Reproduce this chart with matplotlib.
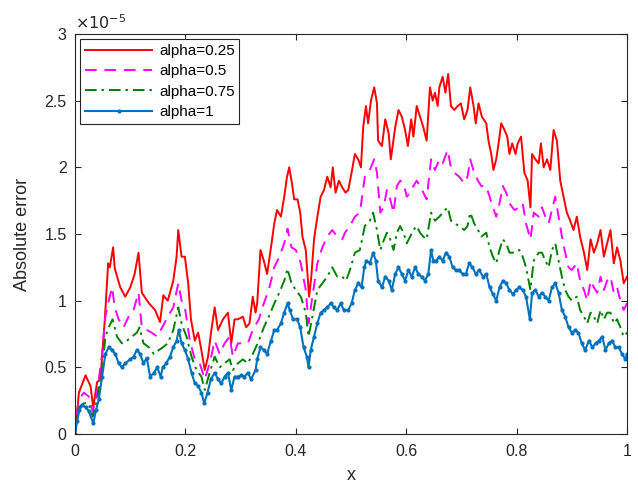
# Absolute error of the scheme for several fractional orders alpha
import numpy as np
import matplotlib.pyplot as plt
from matplotlib.ticker import FuncFormatter

# values, y in units of 1e-5
x_a025 = [0.0, 0.001, 0.007, 0.019, 0.028, 0.033, 0.040, 0.046, 0.054, 0.060, 0.063,
          0.069, 0.072, 0.082, 0.091, 0.100, 0.108, 0.115, 0.121, 0.134, 0.145, 0.154,
          0.160, 0.168, 0.178, 0.184, 0.187, 0.193, 0.199, 0.205, 0.210, 0.217, 0.223,
          0.228, 0.235, 0.241, 0.247, 0.253, 0.259, 0.268, 0.277, 0.283, 0.289, 0.295,
          0.304, 0.310, 0.316, 0.322, 0.327, 0.330, 0.336, 0.342, 0.348, 0.355, 0.361,
          0.366, 0.373, 0.379, 0.384, 0.388, 0.393, 0.397, 0.403, 0.408, 0.412, 0.418,
          0.424, 0.428, 0.433, 0.439, 0.445, 0.451, 0.457, 0.463, 0.467, 0.472, 0.478,
          0.484, 0.490, 0.495, 0.501, 0.507, 0.513, 0.518, 0.522, 0.527, 0.531, 0.536,
          0.542, 0.547, 0.549, 0.556, 0.562, 0.568, 0.572, 0.580, 0.586, 0.592, 0.598,
          0.603, 0.609, 0.613, 0.619, 0.625, 0.631, 0.637, 0.643, 0.648, 0.652, 0.657,
          0.660, 0.666, 0.671, 0.676, 0.681, 0.687, 0.693, 0.699, 0.705, 0.711, 0.716,
          0.722, 0.726, 0.731, 0.737, 0.745, 0.749, 0.754, 0.758, 0.763, 0.768, 0.772,
          0.778, 0.783, 0.787, 0.792, 0.798, 0.802, 0.808, 0.814, 0.820, 0.825, 0.828,
          0.834, 0.840, 0.844, 0.849, 0.855, 0.861, 0.867, 0.873, 0.879, 0.885, 0.891,
          0.897, 0.903, 0.909, 0.915, 0.922, 0.928, 0.934, 0.940, 0.946, 0.952, 0.958,
          0.964, 0.970, 0.976, 0.982, 0.988, 0.994, 1.0]
err_a025 = [0.0, 0.03, 0.31, 0.44, 0.36, 0.20, 0.39, 0.41, 0.86, 1.28, 1.25,
            1.40, 1.24, 1.10, 1.03, 1.10, 1.20, 1.36, 1.06, 0.98, 0.93, 0.84,
            1.04, 1.00, 1.15, 1.33, 1.53, 1.33, 1.33, 1.13, 0.86, 0.70, 0.76,
            0.65, 0.48, 0.58, 0.78, 0.95, 0.78, 0.86, 0.91, 0.68, 0.86, 0.86,
            0.88, 0.80, 0.83, 1.03, 0.91, 0.98, 1.38, 1.30, 1.20, 1.40, 1.58,
            1.68, 1.63, 1.78, 1.93, 2.00, 1.88, 1.76, 1.76, 1.66, 1.48, 1.38,
            1.03, 1.18, 1.46, 1.63, 1.78, 1.83, 1.93, 1.85, 2.00, 1.81, 1.90,
            1.85, 1.81, 1.83, 1.96, 2.10, 2.06, 2.00, 2.30, 2.46, 2.33, 2.50,
            2.60, 2.48, 2.20, 2.16, 2.36, 2.26, 2.06, 2.30, 2.43, 2.38, 2.28,
            2.16, 2.36, 2.23, 2.46, 2.38, 2.30, 2.20, 2.60, 2.50, 2.56, 2.46,
            2.60, 2.68, 2.56, 2.70, 2.46, 2.43, 2.46, 2.48, 2.36, 2.43, 2.60,
            2.46, 2.33, 2.48, 2.38, 2.33, 2.20, 2.10, 1.98, 2.06, 2.20, 2.33,
            2.28, 2.23, 2.10, 2.18, 2.10, 2.18, 2.23, 1.96, 1.90, 1.70, 2.10,
            2.06, 2.03, 2.18, 2.00, 2.06, 1.98, 2.28, 2.20, 1.90, 1.78, 1.66,
            1.60, 1.53, 1.63, 1.48, 1.36, 1.23, 1.46, 1.36, 1.43, 1.53, 1.33,
            1.43, 1.53, 1.28, 1.40, 1.30, 1.13, 1.18]

x_a05 = [0.0, 0.001, 0.007, 0.016, 0.025, 0.032, 0.040, 0.049, 0.055, 0.061, 0.067,
         0.072, 0.079, 0.088, 0.097, 0.106, 0.115, 0.121, 0.130, 0.139, 0.149, 0.158,
         0.168, 0.178, 0.187, 0.193, 0.199, 0.208, 0.217, 0.226, 0.235, 0.244, 0.253,
         0.262, 0.271, 0.280, 0.286, 0.295, 0.304, 0.313, 0.322, 0.333, 0.342, 0.351,
         0.361, 0.370, 0.379, 0.385, 0.392, 0.400, 0.409, 0.418, 0.423, 0.430, 0.439,
         0.448, 0.457, 0.466, 0.475, 0.484, 0.489, 0.498, 0.507, 0.516, 0.525, 0.534,
         0.542, 0.547, 0.553, 0.559, 0.565, 0.571, 0.577, 0.583, 0.589, 0.595, 0.601,
         0.607, 0.613, 0.619, 0.625, 0.631, 0.637, 0.645, 0.652, 0.660, 0.666, 0.675,
         0.681, 0.687, 0.696, 0.705, 0.711, 0.716, 0.723, 0.730, 0.736, 0.745, 0.751,
         0.757, 0.763, 0.769, 0.775, 0.781, 0.787, 0.796, 0.805, 0.811, 0.817, 0.825,
         0.831, 0.840, 0.846, 0.852, 0.858, 0.864, 0.870, 0.876, 0.882, 0.888, 0.894,
         0.900, 0.909, 0.915, 0.922, 0.928, 0.934, 0.940, 0.946, 0.952, 0.958, 0.964,
         0.970, 0.976, 0.982, 0.988, 0.994, 1.0]
err_a05 = [0.0, 0.08, 0.26, 0.31, 0.28, 0.17, 0.31, 0.60, 0.88, 1.00, 1.10,
           0.95, 0.86, 0.80, 0.88, 0.93, 1.06, 0.80, 0.78, 0.76, 0.73, 0.80,
           0.88, 0.95, 1.13, 1.00, 0.95, 0.70, 0.56, 0.53, 0.41, 0.53, 0.70,
           0.60, 0.68, 0.73, 0.58, 0.68, 0.68, 0.68, 0.78, 0.86, 0.98, 1.08,
           1.25, 1.33, 1.43, 1.54, 1.40, 1.38, 1.28, 1.08, 0.83, 1.03, 1.28,
           1.40, 1.48, 1.53, 1.48, 1.46, 1.51, 1.56, 1.63, 1.66, 1.93, 1.98,
           2.06, 1.96, 1.66, 1.70, 1.83, 1.76, 1.66, 1.86, 1.90, 1.88, 1.78,
           1.81, 1.86, 1.90, 1.86, 1.81, 1.76, 2.06, 1.98, 2.06, 2.03, 2.13,
           2.00, 1.96, 1.93, 1.88, 1.93, 2.06, 1.96, 1.90, 1.86, 1.86, 1.78,
           1.70, 1.63, 1.73, 1.86, 1.81, 1.73, 1.68, 1.70, 1.73, 1.58, 1.46,
           1.66, 1.63, 1.70, 1.63, 1.58, 1.68, 1.78, 1.63, 1.48, 1.36, 1.25,
           1.23, 1.28, 1.15, 1.08, 1.00, 1.15, 1.10, 1.06, 1.18, 1.08, 1.15,
           1.18, 1.06, 1.10, 1.00, 0.93, 0.98]

x_a075 = [0.0, 0.001, 0.007, 0.016, 0.025, 0.032, 0.040, 0.049, 0.055, 0.061, 0.068,
          0.076, 0.085, 0.094, 0.103, 0.112, 0.117, 0.124, 0.134, 0.143, 0.152, 0.159,
          0.168, 0.178, 0.187, 0.193, 0.202, 0.211, 0.220, 0.229, 0.235, 0.244, 0.253,
          0.262, 0.271, 0.280, 0.286, 0.295, 0.304, 0.313, 0.322, 0.333, 0.342, 0.351,
          0.361, 0.370, 0.379, 0.385, 0.392, 0.400, 0.409, 0.418, 0.423, 0.430, 0.439,
          0.448, 0.457, 0.466, 0.475, 0.484, 0.491, 0.498, 0.507, 0.516, 0.525, 0.534,
          0.540, 0.547, 0.553, 0.559, 0.565, 0.571, 0.577, 0.583, 0.589, 0.595, 0.601,
          0.607, 0.613, 0.619, 0.625, 0.631, 0.637, 0.645, 0.652, 0.660, 0.666, 0.675,
          0.681, 0.687, 0.696, 0.705, 0.711, 0.716, 0.723, 0.730, 0.736, 0.745, 0.751,
          0.757, 0.763, 0.769, 0.775, 0.781, 0.787, 0.796, 0.805, 0.811, 0.817, 0.825,
          0.831, 0.840, 0.846, 0.852, 0.858, 0.864, 0.870, 0.876, 0.882, 0.888, 0.894,
          0.900, 0.909, 0.915, 0.922, 0.928, 0.934, 0.940, 0.946, 0.952, 0.958, 0.964,
          0.970, 0.976, 0.982, 0.988, 0.994, 1.0]
err_a075 = [0.0, 0.05, 0.20, 0.23, 0.23, 0.13, 0.26, 0.48, 0.73, 0.80, 0.86,
            0.73, 0.68, 0.70, 0.73, 0.76, 0.80, 0.68, 0.65, 0.60, 0.63, 0.65,
            0.68, 0.78, 0.95, 0.83, 0.73, 0.58, 0.48, 0.43, 0.33, 0.46, 0.58,
            0.50, 0.53, 0.56, 0.48, 0.53, 0.56, 0.53, 0.60, 0.70, 0.80, 0.88,
            0.98, 1.06, 1.15, 1.24, 1.13, 1.08, 1.03, 0.91, 0.73, 0.88, 1.08,
            1.13, 1.18, 1.25, 1.18, 1.18, 1.15, 1.23, 1.36, 1.38, 1.56, 1.60,
            1.66, 1.53, 1.38, 1.45, 1.51, 1.46, 1.38, 1.51, 1.56, 1.51, 1.43,
            1.48, 1.53, 1.56, 1.51, 1.48, 1.46, 1.66, 1.60, 1.63, 1.66, 1.70,
            1.60, 1.58, 1.56, 1.53, 1.56, 1.66, 1.58, 1.53, 1.48, 1.51, 1.40,
            1.33, 1.28, 1.38, 1.46, 1.43, 1.36, 1.36, 1.38, 1.33, 1.25, 1.08,
            1.30, 1.36, 1.36, 1.30, 1.25, 1.38, 1.43, 1.30, 1.18, 1.08, 1.03,
            1.00, 1.03, 0.93, 0.88, 0.83, 0.91, 0.88, 0.83, 0.93, 0.86, 0.91,
            0.91, 0.83, 0.86, 0.80, 0.73, 0.76]

x_a1 = [0.0, 0.004, 0.008, 0.013, 0.019, 0.025, 0.033, 0.038, 0.043, 0.049, 0.055,
        0.061, 0.067, 0.073, 0.079, 0.085, 0.091, 0.100, 0.106, 0.112, 0.118, 0.124,
        0.130, 0.136, 0.143, 0.149, 0.155, 0.159, 0.165, 0.172, 0.178, 0.184, 0.188,
        0.193, 0.199, 0.205, 0.211, 0.217, 0.223, 0.229, 0.234, 0.240, 0.246, 0.253,
        0.259, 0.265, 0.271, 0.277, 0.283, 0.289, 0.295, 0.301, 0.307, 0.313, 0.319,
        0.327, 0.330, 0.336, 0.342, 0.348, 0.355, 0.361, 0.366, 0.373, 0.379, 0.385,
        0.389, 0.395, 0.402, 0.408, 0.414, 0.420, 0.423, 0.427, 0.433, 0.439, 0.445,
        0.451, 0.457, 0.463, 0.469, 0.475, 0.481, 0.487, 0.495, 0.501, 0.507, 0.513,
        0.519, 0.524, 0.528, 0.534, 0.540, 0.545, 0.549, 0.556, 0.562, 0.568, 0.574,
        0.580, 0.586, 0.592, 0.598, 0.604, 0.610, 0.616, 0.622, 0.628, 0.634, 0.640,
        0.645, 0.649, 0.654, 0.660, 0.666, 0.672, 0.678, 0.684, 0.690, 0.696, 0.702,
        0.708, 0.714, 0.720, 0.726, 0.732, 0.739, 0.745, 0.751, 0.757, 0.763, 0.769,
        0.775, 0.781, 0.787, 0.793, 0.799, 0.805, 0.811, 0.817, 0.824, 0.828, 0.834,
        0.840, 0.846, 0.852, 0.858, 0.864, 0.870, 0.876, 0.882, 0.888, 0.894, 0.900,
        0.906, 0.912, 0.918, 0.924, 0.931, 0.937, 0.943, 0.949, 0.955, 0.961, 0.967,
        0.973, 0.979, 0.985, 0.991, 0.997, 1.0]
err_a1 = [0.0, 0.10, 0.18, 0.22, 0.20, 0.17, 0.08, 0.18, 0.26, 0.43, 0.60,
          0.65, 0.63, 0.60, 0.53, 0.50, 0.53, 0.56, 0.58, 0.63, 0.60, 0.53,
          0.57, 0.43, 0.46, 0.50, 0.43, 0.50, 0.53, 0.58, 0.65, 0.70, 0.78,
          0.68, 0.63, 0.56, 0.46, 0.38, 0.36, 0.31, 0.23, 0.31, 0.41, 0.46,
          0.41, 0.38, 0.43, 0.46, 0.33, 0.43, 0.43, 0.44, 0.43, 0.46, 0.41,
          0.48, 0.56, 0.65, 0.63, 0.60, 0.70, 0.78, 0.78, 0.83, 0.91, 0.98,
          0.93, 0.86, 0.86, 0.80, 0.65, 0.58, 0.50, 0.63, 0.73, 0.83, 0.91,
          0.93, 0.95, 0.98, 0.95, 0.93, 0.98, 0.93, 0.93, 0.98, 1.08, 1.13,
          1.10, 1.25, 1.30, 1.28, 1.36, 1.30, 1.15, 1.10, 1.18, 1.15, 1.08,
          1.20, 1.25, 1.20, 1.15, 1.23, 1.18, 1.25, 1.20, 1.18, 1.15, 1.20,
          1.38, 1.30, 1.30, 1.33, 1.30, 1.36, 1.33, 1.25, 1.23, 1.23, 1.20,
          1.20, 1.28, 1.25, 1.20, 1.23, 1.18, 1.20, 1.10, 1.05, 1.00, 1.10,
          1.15, 1.13, 1.08, 1.05, 1.08, 1.10, 1.08, 1.03, 0.86, 1.06, 1.08,
          1.03, 1.06, 1.03, 1.00, 1.10, 1.13, 1.06, 0.93, 0.88, 0.80, 0.76,
          0.78, 0.76, 0.68, 0.63, 0.70, 0.65, 0.68, 0.70, 0.73, 0.63, 0.68,
          0.70, 0.65, 0.65, 0.60, 0.56, 0.60]

labels = ["alpha=0.25", "alpha=0.5", "alpha=0.75", "alpha=1"]

plt.rcParams['font.family'] = ['Liberation Sans', 'DejaVu Sans']

fig = plt.figure(figsize=(6.38, 4.86), dpi=100)
ax = fig.add_axes([0.1176, 0.107, 0.8652, 0.823])

scale = 1e-5
ax.plot(x_a025, np.array(err_a025) * scale, color=(1, 0, 0), lw=1.4, label=labels[0])
ax.plot(x_a05, np.array(err_a05) * scale, color=(1, 0, 1), lw=1.4,
        dashes=(6, 4), label=labels[1])
ax.plot(x_a075, np.array(err_a075) * scale, color=(0, 0.5, 0), lw=1.4,
        dashes=(6, 2.5, 1.3, 2.5), label=labels[2])
ax.plot(x_a1, np.array(err_a1) * scale, color=(0, 0.447, 0.741), lw=1.5,
        marker='.', markersize=4, label=labels[3])

ax.set_xlim(0, 1)
ax.set_ylim(0, 3e-5)
ax.set_xticks(np.arange(0, 1.01, 0.2))
ax.set_yticks(np.arange(0, 3.01e-5, 0.5e-5))
ax.xaxis.set_major_formatter(FuncFormatter(lambda v, p: f"{v:g}"))
ax.yaxis.set_major_formatter(FuncFormatter(lambda v, p: f"{round(v / scale, 2):g}"))

axis_color = (0.15, 0.15, 0.15)
ax.tick_params(direction='in', top=True, right=True, length=4, width=0.8,
               labelsize=11.5, colors=axis_color)
ax.tick_params(axis='x', pad=7)
ax.tick_params(axis='y', pad=6)
for sp in ax.spines.values():
    sp.set_color(axis_color)
    sp.set_linewidth(0.8)

ax.text(0.0, 1.006, r"$\times10^{-5}$", transform=ax.transAxes, fontsize=11.5,
        color=axis_color, ha='left', va='bottom')

ax.set_xlabel("x", fontsize=13, color=axis_color, labelpad=6)
ax.set_ylabel("Absolute error", fontsize=13, color=axis_color, labelpad=10)

leg = ax.legend(loc='upper left', fontsize=11, handlelength=4.4, fancybox=False,
                edgecolor=axis_color, framealpha=1, borderaxespad=0.35,
                borderpad=0.3, labelspacing=0.42, handletextpad=0.45)
leg.get_frame().set_linewidth(0.8)

fig.savefig("out.png", dpi=100)
